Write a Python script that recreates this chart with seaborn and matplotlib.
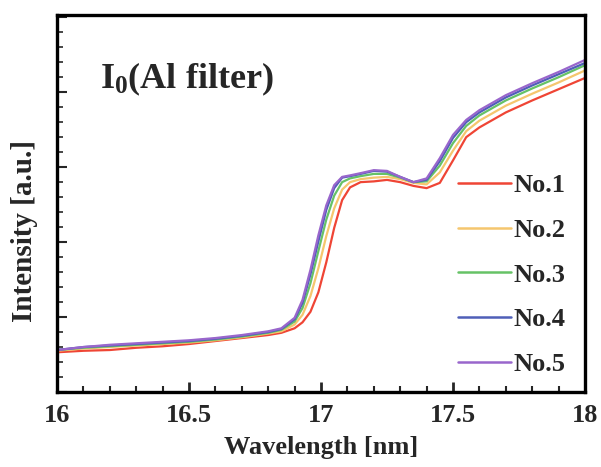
import numpy as np
import pandas as pd
import matplotlib
matplotlib.use("Agg")
import matplotlib.pyplot as plt
from matplotlib.ticker import MultipleLocator
import seaborn as sns

wavelength = [16.0, 16.1, 16.2, 16.3, 16.4, 16.5, 16.6, 16.7, 16.8, 16.85,
              16.9, 16.93, 16.96, 16.99, 17.02, 17.05, 17.08, 17.11, 17.15, 17.2,
              17.25, 17.3, 17.35, 17.4, 17.45, 17.5, 17.55, 17.6, 17.7, 17.8,
              17.9, 18.0]

no1 = [0.53, 0.55, 0.56, 0.59, 0.61, 0.64, 0.68, 0.72, 0.76, 0.79,
       0.85, 0.93, 1.07, 1.33, 1.73, 2.19, 2.56, 2.73, 2.80, 2.81,
       2.83, 2.80, 2.75, 2.72, 2.79, 3.09, 3.40, 3.53, 3.73, 3.89,
       4.04, 4.19]
no2 = [0.55, 0.58, 0.60, 0.62, 0.64, 0.66, 0.69, 0.73, 0.78, 0.81,
       0.90, 1.03, 1.28, 1.65, 2.08, 2.45, 2.70, 2.80, 2.84, 2.86,
       2.87, 2.84, 2.79, 2.77, 2.93, 3.22, 3.48, 3.62, 3.82, 3.98,
       4.13, 4.29]
no3 = [0.56, 0.59, 0.61, 0.63, 0.65, 0.67, 0.70, 0.74, 0.79, 0.83,
       0.94, 1.12, 1.45, 1.88, 2.30, 2.62, 2.80, 2.85, 2.88, 2.91,
       2.91, 2.86, 2.80, 2.81, 3.02, 3.32, 3.55, 3.69, 3.89, 4.05,
       4.20, 4.36]
no4 = [0.56, 0.60, 0.62, 0.64, 0.66, 0.68, 0.71, 0.75, 0.80, 0.84,
       0.97, 1.19, 1.57, 2.01, 2.43, 2.72, 2.86, 2.88, 2.91, 2.95,
       2.94, 2.87, 2.80, 2.83, 3.08, 3.39, 3.60, 3.73, 3.93, 4.09,
       4.24, 4.39]
no5 = [0.56, 0.60, 0.63, 0.65, 0.67, 0.69, 0.72, 0.76, 0.81, 0.85,
       0.99, 1.23, 1.63, 2.09, 2.49, 2.76, 2.87, 2.89, 2.92, 2.96,
       2.95, 2.87, 2.80, 2.85, 3.12, 3.43, 3.63, 3.76, 3.96, 4.12,
       4.27, 4.43]

series_names = ["No.1", "No.2", "No.3", "No.4", "No.5"]
colors = ["#ef4535", "#f5c66e", "#66c266", "#4f5fb8", "#9966cc"]

frames = []
for name, vals in zip(series_names, [no1, no2, no3, no4, no5]):
    frames.append(pd.DataFrame({"Wavelength": wavelength, "Intensity": vals, "Sample": name}))
df = pd.concat(frames, ignore_index=True)

sns.set_style("white")
plt.rcParams["font.family"] = ["Liberation Serif", "DejaVu Serif"]
plt.rcParams["font.weight"] = "bold"
plt.rcParams["mathtext.fontset"] = "custom"
plt.rcParams["mathtext.rm"] = "Liberation Serif:bold"
plt.rcParams["mathtext.it"] = "Liberation Serif:bold"
plt.rcParams["mathtext.bf"] = "Liberation Serif:bold"

fig = plt.figure(figsize=(6.01, 4.67), dpi=100)
ax = fig.add_axes([57 / 601, 75 / 467, 528 / 601, 377 / 467])

sns.lineplot(data=df, x="Wavelength", y="Intensity", hue="Sample",
             palette=colors, hue_order=series_names, linewidth=1.6,
             ax=ax, legend=False, sort=True)

ax.set_xlim(16, 18)
ax.set_ylim(0, 5.03)
ax.xaxis.set_major_locator(MultipleLocator(0.5))
ax.xaxis.set_minor_locator(MultipleLocator(0.1))
ax.yaxis.set_major_locator(MultipleLocator(1))
ax.yaxis.set_minor_locator(MultipleLocator(0.2))
ax.set_xticks([16, 16.5, 17, 17.5, 18])
ax.set_xticklabels(["16", "16.5", "17", "17.5", "18"])
ax.set_yticklabels([])
ax.tick_params(axis="x", which="major", direction="in", length=7, width=2, pad=9,
               labelsize=19, bottom=True, top=False)
ax.tick_params(axis="x", which="minor", direction="in", length=4, width=1.5,
               bottom=True, top=False)
ax.tick_params(axis="y", which="major", direction="in", length=7, width=1.5,
               left=True, right=False, labelleft=False)
ax.tick_params(axis="y", which="minor", direction="in", length=4, width=1.2,
               left=True, right=False)
for lbl in ax.get_xticklabels():
    lbl.set_fontweight("bold")

for s in ax.spines.values():
    s.set_linewidth(2.4)
    s.set_color("black")

ax.set_xlabel("Wavelength [nm]", fontsize=19, fontweight="bold", labelpad=6)
ax.set_ylabel("Intensity [a.u.]", fontsize=21, fontweight="bold")
ax.yaxis.set_label_coords(-0.036, 0.427)

ax.text(100 / 601, 1 - 88 / 467, "I$_0$(Al filter)", transform=fig.transFigure,
        fontsize=26, fontweight="bold", ha="left", va="baseline")

handles = [plt.Line2D([], [], color=c, linewidth=1.8) for c in colors]
leg = fig.legend(handles, series_names, loc="upper left",
                 bbox_to_anchor=(458 / 601, 1 - 174 / 467),
                 frameon=False, fontsize=19, handlelength=2.0,
                 handletextpad=0.1, labelspacing=0.8, borderpad=0,
                 borderaxespad=0)
for t in leg.get_texts():
    t.set_fontweight("bold")

fig.savefig("out.png", dpi=100)
